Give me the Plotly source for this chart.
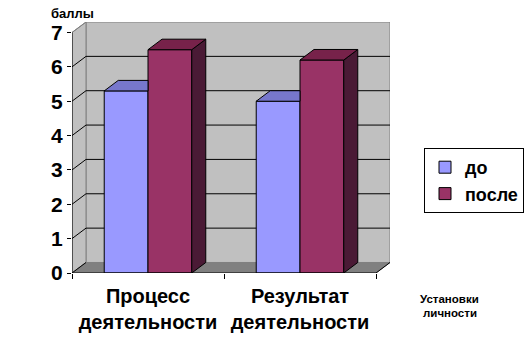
import plotly.graph_objects as go

# ---- data ----
categories = ["Процесс деятельности", "Результат деятельности"]
series_names = ["до", "после"]
before = [5.3, 5.0]
after = [6.5, 6.2]
y_ticks = [0, 1, 2, 3, 4, 5, 6, 7]
y_title = "баллы"
x_title_lines = ["Установки", "личности"]

# ---- style ----
FONT = "Liberation Sans"
C_FRONT = ["#9999FF", "#993366"]
C_TOP = ["#7777CC", "#77224A"]
C_SIDE = ["#5E5EA8", "#4A1A35"]
WALL = "#C0C0C0"
FLOOR = "#808080"
DDX = 14 / 152.0   # depth offset in x data units
DDY = 10.5 / 34.31  # depth offset in y data units
BW = 0.288
YMAX = max(y_ticks)
X0, X1 = -0.5, len(categories) - 0.5

fig = go.Figure()
shapes = []

# back wall
shapes.append(dict(type="path", layer="below",
                   path=f"M{X0+DDX},{DDY} L{X1+DDX},{DDY} L{X1+DDX},{YMAX+DDY} L{X0+DDX},{YMAX+DDY} Z",
                   fillcolor=WALL, line=dict(color="#808080", width=1)))
# left wall
shapes.append(dict(type="path", layer="below",
                   path=f"M{X0},0 L{X0+DDX},{DDY} L{X0+DDX},{YMAX+DDY} L{X0},{YMAX} Z",
                   fillcolor=WALL, line=dict(color="#808080", width=1)))
# floor
shapes.append(dict(type="path", layer="below",
                   path=f"M{X0},0 L{X1},0 L{X1+DDX},{DDY} L{X0+DDX},{DDY} Z",
                   fillcolor=FLOOR, line=dict(color="#808080", width=1)))
# gridlines
for k in y_ticks[1:-1]:
    shapes.append(dict(type="line", layer="below", x0=X0 + DDX, x1=X1 + DDX, y0=k + DDY, y1=k + DDY,
                       line=dict(color="black", width=1)))
for k in y_ticks:
    shapes.append(dict(type="line", layer="below", x0=X0, x1=X0 + DDX, y0=k, y1=k + DDY,
                       line=dict(color="black" if k < YMAX else "#808080", width=1)))
# floor right edge
shapes.append(dict(type="line", layer="below", x0=X1, x1=X1 + DDX, y0=0, y1=DDY,
                   line=dict(color="black", width=1)))
# front axes lines
shapes.append(dict(type="line", x0=X0, x1=X0, y0=0, y1=YMAX, line=dict(color="black", width=1)))
shapes.append(dict(type="line", x0=X0, x1=X1, y0=0, y1=0, line=dict(color="black", width=1)))

xs = list(range(len(categories)))
all_vals = [before, after]
offsets = [-BW, 0.0]

for s, vals in enumerate(all_vals):
    fig.add_trace(go.Bar(x=xs, y=vals, name=series_names[s], width=BW, offset=offsets[s],
                         marker=dict(color=C_FRONT[s], line=dict(color="black", width=1)),
                         hoverinfo="skip"))

for i, x in enumerate(xs):
    for s, vals in enumerate(all_vals):
        v = vals[i]
        xl = x + offsets[s]
        xr = xl + BW
        if s == 0:
            # top face clipped by the taller neighbour bar
            tx = [xl, xr, xr, xl + DDX, xl]
            ty = [v, v, v + DDY, v + DDY, v]
        else:
            tx = [xl, xr, xr + DDX, xl + DDX, xl]
            ty = [v, v, v + DDY, v + DDY, v]
            sx = [xr, xr + DDX, xr + DDX, xr, xr]
            sy = [0, DDY, v + DDY, v, 0]
            fig.add_trace(go.Scatter(x=sx, y=sy, fill="toself", fillcolor=C_SIDE[s], mode="lines",
                                     line=dict(color="black", width=1), showlegend=False, hoverinfo="skip"))
        fig.add_trace(go.Scatter(x=tx, y=ty, fill="toself", fillcolor=C_TOP[s], mode="lines",
                                 line=dict(color="black", width=1), showlegend=False, hoverinfo="skip"))

ticktext = [c.replace(" ", "<br>") for c in categories]

fig.update_layout(
    width=532, height=353,
    margin=dict(l=72, r=142, t=22, b=80, autoexpand=False),
    paper_bgcolor="white", plot_bgcolor="white",
    barmode="overlay",
    shapes=shapes,
    font=dict(family=FONT, color="black"),
    xaxis=dict(range=[X0, X1 + DDX], tickvals=xs, ticktext=ticktext, ticks="",
               tickfont=dict(family=FONT, size=20, color="black", weight="bold"),
               ticklabelstandoff=9,
               showgrid=False, zeroline=False, showline=False, fixedrange=True,
               minor=dict(tickvals=[X0 + j for j in range(len(categories) + 1)], ticks="outside",
                          ticklen=5, tickcolor="black", tickwidth=1, showgrid=False)),
    yaxis=dict(range=[0, YMAX + DDY], tickvals=y_ticks, ticks="outside", ticklen=4,
               tickcolor="black", showgrid=False, zeroline=False, showline=False,
               tickfont=dict(family=FONT, size=21, color="black", weight="bold"), fixedrange=True),
    legend=dict(x=(524 - 72) / 318, y=(273 - 148) / 251, xanchor="right", yanchor="top",
                bordercolor="black", borderwidth=1, bgcolor="white",
                font=dict(family=FONT, size=18, color="black", weight="bold"),
                traceorder="normal", itemwidth=30),
    annotations=[
        dict(text=f"<b>{y_title}</b>", xref="paper", yref="paper", x=(72.5 - 72) / 318,
             y=(273 - 13.3) / 251, showarrow=False, xanchor="center", yanchor="middle",
             font=dict(family=FONT, size=13, color="black")),
        dict(text=f"<b>{x_title_lines[0]}</b>", xref="paper", yref="paper", x=(449.5 - 72) / 318,
             y=(273 - 298.7) / 251, showarrow=False, xanchor="center", yanchor="middle",
             font=dict(family=FONT, size=11.5, color="black")),
        dict(text=f"<b>{x_title_lines[1]}</b>", xref="paper", yref="paper", x=(449.5 - 72) / 318,
             y=(273 - 313.3) / 251, showarrow=False, xanchor="center", yanchor="middle",
             font=dict(family=FONT, size=11.5, color="black")),
    ],
)

fig.write_html("out.html")
